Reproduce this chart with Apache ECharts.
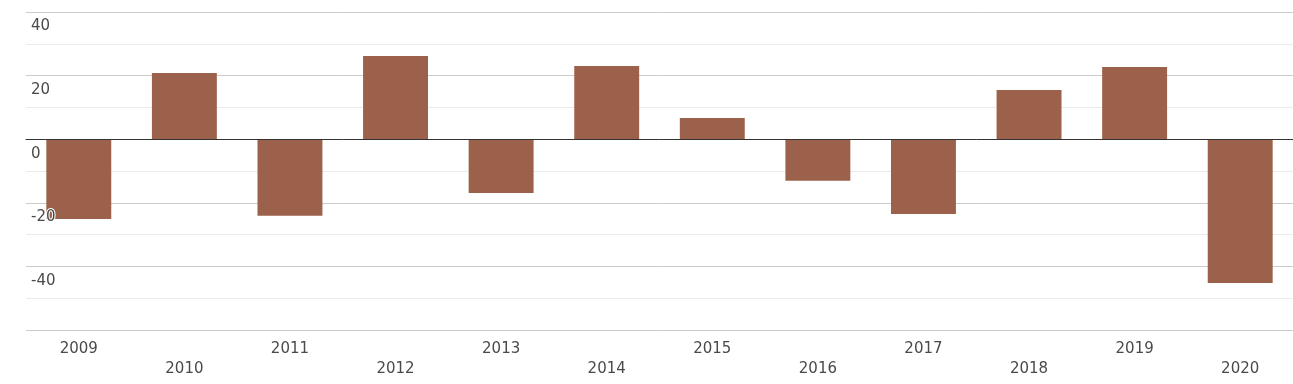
<!DOCTYPE html>
<html><head><meta charset="utf-8">
<script src="https://cdn.jsdelivr.net/npm/echarts@6/dist/echarts.min.js"></script>
<style>html,body{margin:0;padding:0;background:#fff}#c{width:1293px;height:384px}</style>
</head><body><div id="c"></div>
<script>
const categories = ['2009','2010','2011','2012','2013','2014','2015','2016','2017','2018','2019','2020'];
const values = [-25.1, 20.8, -24.1, 26.2, -16.9, 23.0, 6.7, -13.1, -23.5, 15.5, 22.7, -45.2];
const yMin = -60, yMax = 40, yStep = 20;

const chart = echarts.init(document.getElementById('c'));
const font = 'DejaVu Sans';
chart.setOption({
  animation: false,
  grid: {left: 26, right: 0, top: 12, bottom: 54},
  xAxis: {
    type: 'category', data: categories, z: 5,
    axisTick: {show: false},
    axisLine: {show: true, onZero: true, lineStyle: {color: '#333', width: 1}},
    axisLabel: {
      color: '#4a4a4a', fontFamily: font, fontSize: 15, lineHeight: 20, margin: 9,
      formatter: (v, i) => (i % 2 ? '\n' + v : v)
    }
  },
  yAxis: [{
    type: 'value', min: yMin, max: yMax, interval: yStep,
    axisLabel: {show: false}, axisLine: {show: false}, axisTick: {show: false},
    splitLine: {lineStyle: {color: '#cccccc', width: 1}},
    minorTick: {show: false, splitNumber: 2},
    minorSplitLine: {show: true, lineStyle: {color: '#ebebeb', width: 1}}
  }, {
    type: 'value', min: yMin, max: yMax, interval: yStep, position: 'left', z: 10,
    axisLine: {show: false}, axisTick: {show: false}, splitLine: {show: false},
    axisLabel: {
      inside: true, margin: 5, color: '#4a4a4a', fontFamily: font, fontSize: 15,
      verticalAlign: 'top', padding: [7, 0, 0, 0],
      textBorderColor: '#fff', textBorderWidth: 2,
      formatter: v => (v === yMin ? '' : String(v))
    }
  }],
  series: [{
    type: 'bar', data: values, yAxisIndex: 0, barWidth: '61.5%',
    itemStyle: {color: '#9c614a'}
  }]
});
</script></body></html>
